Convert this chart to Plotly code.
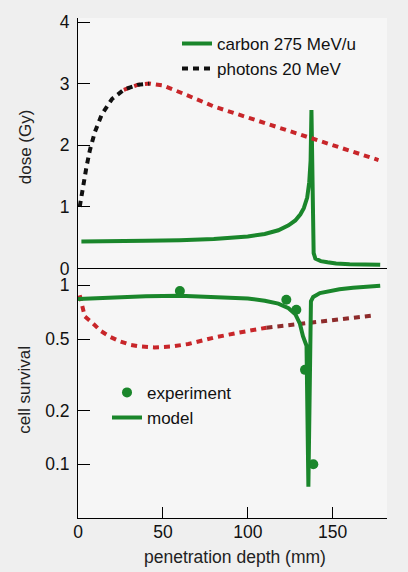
import plotly.graph_objects as go

# ---- data ----
carbon_dose_x = [2, 20, 40, 60, 80, 100, 110, 118, 124, 128, 131, 133, 135, 136.2, 137.0, 137.5, 138.8, 139.8, 143, 147, 152, 160, 170, 178]
carbon_dose_y = [0.44, 0.44, 0.45, 0.46, 0.48, 0.52, 0.56, 0.62, 0.70, 0.78, 0.88, 0.98, 1.15, 1.40, 1.75, 2.57, 0.25, 0.16, 0.12, 0.10, 0.08, 0.07, 0.06, 0.06]

photon_dose_x = [1, 3, 5, 7, 10, 14, 20, 27, 35, 42, 50, 60, 80, 100, 120, 140, 160, 177]
photon_dose_y = [1.0, 1.35, 1.65, 1.92, 2.22, 2.5, 2.75, 2.9, 2.98, 3.0, 2.97, 2.86, 2.63, 2.45, 2.27, 2.09, 1.92, 1.76]

model_x = [0, 20, 40, 60, 80, 100, 110, 118, 124, 128, 130.7, 132.5, 134.6, 135.7, 137.2, 138.5, 142.5, 148, 154, 162, 170, 178]
model_y = [0.84, 0.86, 0.87, 0.875, 0.865, 0.845, 0.82, 0.79, 0.745, 0.69, 0.61, 0.52, 0.46, 0.075, 0.815, 0.86, 0.905, 0.93, 0.95, 0.97, 0.985, 0.996]

exp_x = [60, 122.7, 128.6, 133.7, 138.6]
exp_y = [0.93, 0.83, 0.73, 0.337, 0.10]

photon_surv_x = [1, 2.5, 4, 9, 13.5, 19, 25, 31, 37, 45, 55, 65, 80, 95, 111, 130, 150, 175]
photon_surv_y = [0.88, 0.76, 0.67, 0.61, 0.555, 0.515, 0.485, 0.465, 0.455, 0.45, 0.455, 0.47, 0.51, 0.545, 0.58, 0.61, 0.635, 0.68]

dose_ticks = [0, 1, 2, 3, 4]
surv_ticks = [0.1, 0.2, 0.5, 1]
surv_tick_text = ["0.1", "0.2", "0.5", "1"]
depth_ticks = [0, 50, 100, 150]

GREEN = "#1a862b"
RED = "#c8262a"
DARKRED = "#8e2c2c"
BLACK = "#111111"
FONT = "Liberation Sans"
DOT = "6px,5px"

black_cut = 7  # index of photon dose where black segment ends
surv_cut = 14

fig = go.Figure()

# top panel
fig.add_trace(go.Scatter(x=carbon_dose_x, y=carbon_dose_y, mode="lines", name="carbon 275 MeV/u",
                         line=dict(color=GREEN, width=4), xaxis="x2", yaxis="y2", legend="legend"))
fig.add_trace(go.Scatter(x=photon_dose_x[black_cut:], y=photon_dose_y[black_cut:], mode="lines",
                         line=dict(color=RED, width=4, dash=DOT), xaxis="x2", yaxis="y2", showlegend=False))
fig.add_trace(go.Scatter(x=photon_dose_x[:black_cut + 3], y=photon_dose_y[:black_cut + 3], mode="lines",
                         name="photons 20 MeV",
                         line=dict(color=BLACK, width=4, dash=DOT), xaxis="x2", yaxis="y2", legend="legend"))

# bottom panel
fig.add_trace(go.Scatter(x=photon_surv_x[:surv_cut + 1], y=photon_surv_y[:surv_cut + 1], mode="lines",
                         line=dict(color=RED, width=4, dash=DOT), xaxis="x", yaxis="y", showlegend=False))
fig.add_trace(go.Scatter(x=photon_surv_x[surv_cut:], y=photon_surv_y[surv_cut:], mode="lines",
                         line=dict(color=DARKRED, width=4, dash=DOT), xaxis="x", yaxis="y", showlegend=False))
fig.add_trace(go.Scatter(x=exp_x, y=exp_y, mode="markers", name="experiment",
                         marker=dict(color=GREEN, size=10), xaxis="x", yaxis="y", legend="legend2"))
fig.add_trace(go.Scatter(x=model_x, y=model_y, mode="lines", name="model",
                         line=dict(color=GREEN, width=4), xaxis="x", yaxis="y", legend="legend2"))

L, R, T, B = 78, 21, 15, 54
H = 572 - T - B
W = 408 - L - R
split = (518 - 267) / H

axis_common = dict(showline=True, linecolor="black", linewidth=1, ticks="inside",
                   tickcolor="black", showgrid=False, zeroline=False,
                   tickfont=dict(family=FONT, size=17.5, color="#111"))

fig.update_layout(
    width=408, height=572,
    margin=dict(l=L, r=R, t=T, b=B),
    paper_bgcolor="#efefef", plot_bgcolor="#f6f6f6",
    font=dict(family=FONT, size=17, color="#111"),
    xaxis=dict(range=[0, 182], tickvals=depth_ticks, ticklen=11, anchor="y",
               ticklabelstandoff=-2, **axis_common),
    yaxis=dict(type="log", range=[-1.3, 0.094], tickvals=surv_ticks, ticktext=surv_tick_text,
               ticklen=12, domain=[0, split], anchor="x", ticklabelstandoff=4, **axis_common),
    xaxis2=dict(range=[0, 182], matches="x", anchor="y2", showline=True, linecolor="black",
                linewidth=1, showticklabels=False, ticks="", showgrid=False, zeroline=False),
    yaxis2=dict(range=[0, 4.065], tickvals=dose_ticks, ticklen=12, domain=[split, 1],
                anchor="x2", ticklabelstandoff=4, **axis_common),
    legend=dict(x=(177 - L) / W, y=(518 - 23) / H, xanchor="left", yanchor="top",
                bgcolor="rgba(0,0,0,0)", font=dict(family=FONT, size=17, color="#111"),
                tracegroupgap=0),
    legend2=dict(x=(107 - L) / W, y=(518 - 374) / H, xanchor="left", yanchor="top",
                 bgcolor="rgba(0,0,0,0)", font=dict(family=FONT, size=17, color="#111")),
    annotations=[
        dict(text="dose (Gy)", x=(25 - L) / W, y=(518 - 145) / H, xref="paper", yref="paper",
             xanchor="center", yanchor="middle",
             textangle=-90, showarrow=False, font=dict(family=FONT, size=17, color="#222")),
        dict(text="cell survival", x=(25 - L) / W, y=(518 - 389) / H, xref="paper", yref="paper",
             xanchor="center", yanchor="middle",
             textangle=-90, showarrow=False, font=dict(family=FONT, size=17, color="#222")),
        dict(text="penetration depth (mm)", x=(235 - L) / W, y=(518 - 557) / H, xref="paper",
             yref="paper", xanchor="center", yanchor="middle",
             showarrow=False, font=dict(family=FONT, size=17.5, color="#222")),
    ],
)

fig.write_html("out.html")
